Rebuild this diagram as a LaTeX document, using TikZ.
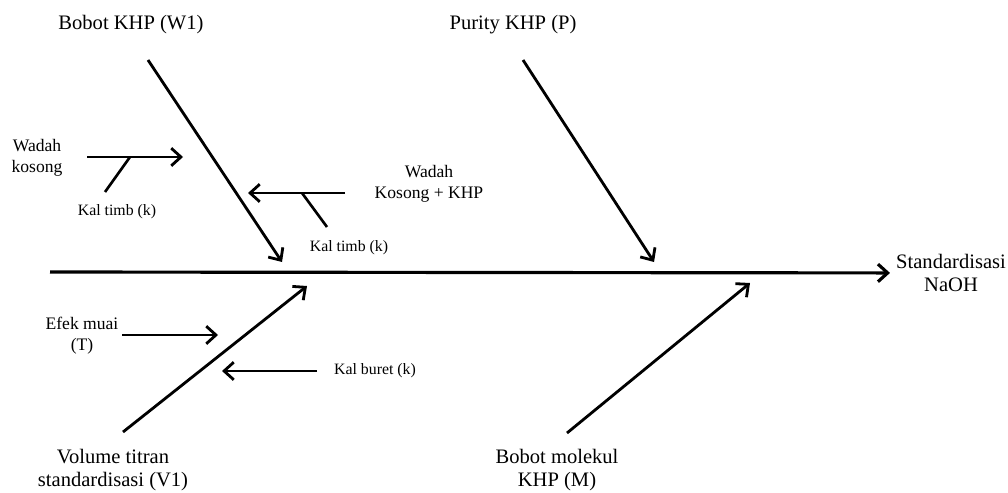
\documentclass[tikz,border=0pt]{standalone}
\usepackage{fontspec}
\setmainfont{Liberation Serif}
\usetikzlibrary{arrows.meta}
\usetikzlibrary{positioning}

\tikzset{
  bone/.style={line width=1.6pt, -{Straight Barb[length=5.5pt,width=10pt]}},
  twig/.style={line width=1.5pt},
  cause/.style={font=\fontsize{11.7}{13.5}\selectfont, align=center},
  sub/.style={font=\fontsize{10}{12}\selectfont, align=center},
  kal/.style={font=\fontsize{9}{11}\selectfont}
}

\begin{document}
\begin{tikzpicture}
  \useasboundingbox (0,0) rectangle (20.16,9.84);
  % Effect and main spine
  \node[cause] (naoh) at (19.02,4.38) {Standardisasi\\NaOH};
  \coordinate (tail) at (1.00,4.40);
  \draw[bone, line width=1.8pt] (tail) -- (naoh);
  % Bone 1: Bobot KHP
  \node[cause] (w1) at (2.62,9.34) {Bobot KHP (W1)};
  \coordinate (w1s) at (2.96,8.64);
  \coordinate (w1e) at (5.64,4.60);
  \draw[bone] (w1s) -- (w1e);
  % sub causes of W1
  \node[sub] (kosong) at (0.74,6.68) {Wadah\\kosong};
  \coordinate (kosongs) at (1.74,6.70);
  \coordinate (kosonge) at (3.66,6.70);
  \draw[bone] (kosongs) -- (kosonge);
  \coordinate (kt1a) at (2.60,6.70);
  \coordinate (kt1b) at (2.10,6.00);
  \draw[twig] (kt1a) -- (kt1b);
  \node[kal] (kaltimb1) at (2.34,5.60) {Kal timb (k)};
  \node[sub] (isi) at (8.58,6.16) {Wadah\\Kosong + KHP};
  \coordinate (isis) at (6.90,5.98);
  \coordinate (isie) at (4.96,5.98);
  \draw[bone] (isis) -- (isie);
  \coordinate (kt2a) at (6.04,5.98);
  \coordinate (kt2b) at (6.54,5.30);
  \draw[twig] (kt2a) -- (kt2b);
  \node[kal] (kaltimb2) at (6.98,4.88) {Kal timb (k)};
  % Bone 2: Purity KHP
  \node[cause] (purity) at (10.26,9.34) {Purity KHP (P)};
  \coordinate (ps) at (10.46,8.64);
  \coordinate (pe) at (13.08,4.60);
  \draw[bone] (ps) -- (pe);
  % Bone 3: Volume titran
  \node[cause] (v1) at (2.26,0.44) {Volume titran\\standardisasi (V1)};
  \coordinate (v1s) at (2.46,1.20);
  \coordinate (v1e) at (6.14,4.12);
  \draw[bone] (v1s) -- (v1e);
  % sub causes of V1
  \node[sub] (muai) at (1.64,3.12) {Efek muai\\(T)};
  \coordinate (muais) at (2.44,3.14);
  \coordinate (muaie) at (4.36,3.14);
  \draw[bone] (muais) -- (muaie);
  \node[kal] (buret) at (7.50,2.42) {Kal buret (k)};
  \coordinate (burets) at (6.34,2.42);
  \coordinate (burete) at (4.44,2.42);
  \draw[bone] (burets) -- (burete);
  % Bone 4: Bobot molekul
  \node[cause] (mol) at (11.14,0.44) {Bobot molekul\\KHP (M)};
  \coordinate (ms) at (11.34,1.18);
  \coordinate (me) at (15.00,4.18);
  \draw[bone] (ms) -- (me);
\end{tikzpicture}
\end{document}
